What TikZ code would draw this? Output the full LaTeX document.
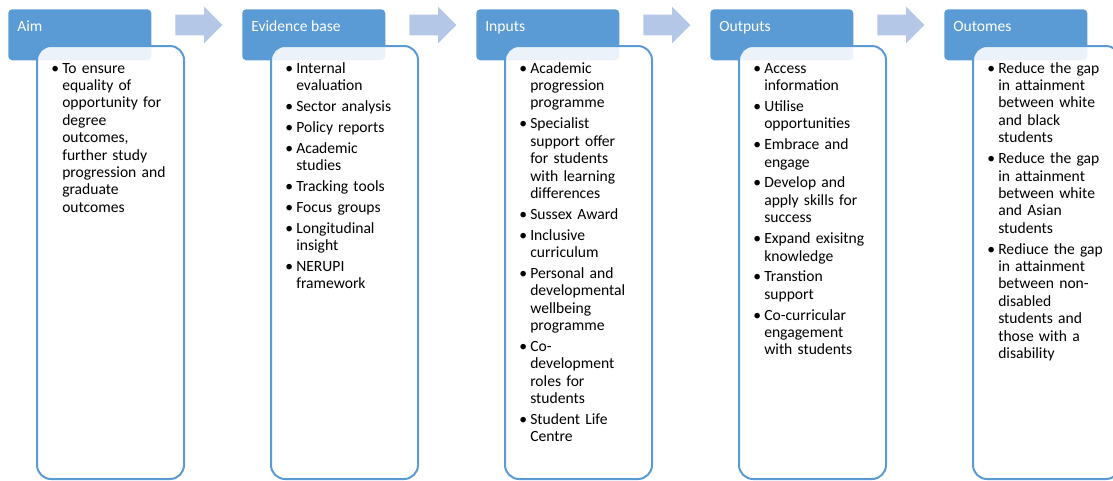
\documentclass[tikz,border=0pt]{standalone}
\usepackage{fontspec}
\setmainfont{Carlito}
\usetikzlibrary{shapes.arrows}

\definecolor{hdrblue}{HTML}{5B9BD5}
\definecolor{arrblue}{RGB}{180,199,231}
\newcommand\lmitem{\par\hangindent=8.25pt\hangafter=1\noindent\makebox[8.25pt][l]{\textbullet}\strut}

\begin{document}
\begin{tikzpicture}[x=0.75pt,y=-0.75pt,
  hdr/.style={anchor=north west,fill=hdrblue,rounded corners=3pt,minimum width=107.25pt,minimum height=38.25pt,inner sep=0},
  hdrtxt/.style={anchor=base west,text=white,inner sep=0,font=\fontsize{11.7}{13.05}\selectfont},
  panel/.style={anchor=north west,draw=hdrblue,line width=1.5pt,fill=white,fill opacity=0.88,rounded corners=10.5pt,minimum width=110.25pt,minimum height=324.75pt,inner sep=0},
  itemtxt/.style={anchor=north west,inner sep=0,text width=93.75pt,font=\fontsize{11.7}{13.05}\selectfont,
    execute at begin node={\raggedright\setlength\parskip{2.6pt}}},
  flowarr/.style={single arrow,anchor=tail,fill=arrblue,inner xsep=0,inner ysep=7.5pt,minimum height=35.25pt,single arrow head extend=6pt}]
\useasboundingbox (0,0) rectangle (1113,480);
\clip (0,0) rectangle (1113,480);

% Aim
\node [hdr] (aimhdr) at (8,9) {};
\node [hdrtxt] (aimttl) at (17,31) {Aim};
\node [panel] (aimbox) at (36,45) {};
\node [itemtxt] (aimtxt) at (51,52) {\lmitem To ensure\newline equality of\newline opportunity for\newline degree\newline outcomes,\newline further study\newline progression and\newline graduate\newline outcomes\par};
\node [flowarr] (arr1) at (175,25) {};

% Evidence base
\node [hdr] (evihdr) at (242,9) {};
\node [hdrtxt] (evittl) at (251,31) {Evidence base};
\node [panel] (evibox) at (270,45) {};
\node [itemtxt] (evitxt) at (285,52) {\lmitem Internal\newline evaluation
  \lmitem Sector analysis
  \lmitem Policy reports
  \lmitem Academic\newline studies
  \lmitem Tracking tools
  \lmitem Focus groups
  \lmitem Longitudinal\newline insight
  \lmitem NERUPI\newline framework\par};
\node [flowarr] (arr2) at (409,25) {};

% Inputs
\node [hdr] (inphdr) at (476,9) {};
\node [hdrtxt] (inpttl) at (485,31) {Inputs};
\node [panel] (inpbox) at (504,45) {};
\node [itemtxt] (inptxt) at (519,52) {\lmitem Academic\newline progression\newline programme
  \lmitem Specialist\newline support offer\newline for students\newline with learning\newline differences
  \lmitem Sussex Award
  \lmitem Inclusive\newline curriculum
  \lmitem Personal and\newline developmental\newline wellbeing\newline programme
  \lmitem Co-\newline development\newline roles for\newline students
  \lmitem Student Life\newline Centre\par};
\node [flowarr] (arr3) at (643,25) {};

% Outputs
\node [hdr] (outhdr) at (710,9) {};
\node [hdrtxt] (outttl) at (719,31) {Outputs};
\node [panel] (outbox) at (738,45) {};
\node [itemtxt] (outtxt) at (753,52) {\lmitem Access\newline information
  \lmitem Utilise\newline opportunities
  \lmitem Embrace and\newline engage
  \lmitem Develop and\newline apply skills for\newline success
  \lmitem Expand exisitng\newline knowledge
  \lmitem Transtion\newline support
  \lmitem Co-curricular\newline engagement\newline with students\par};
\node [flowarr] (arr4) at (877,25) {};

% Outomes
\node [hdr] (ocmhdr) at (944,9) {};
\node [hdrtxt] (ocmttl) at (953,31) {Outomes};
\node [panel] (ocmbox) at (972,45) {};
\node [itemtxt] (ocmtxt) at (987,52) {\lmitem Reduce the gap\newline in attainment\newline between white\newline and black\newline students
  \lmitem Reduce the gap\newline in attainment\newline between white\newline and Asian\newline students
  \lmitem Rediuce the gap\newline in attainment\newline between non-\newline disabled\newline students and\newline those with a\newline disability\par};
\end{tikzpicture}
\end{document}
